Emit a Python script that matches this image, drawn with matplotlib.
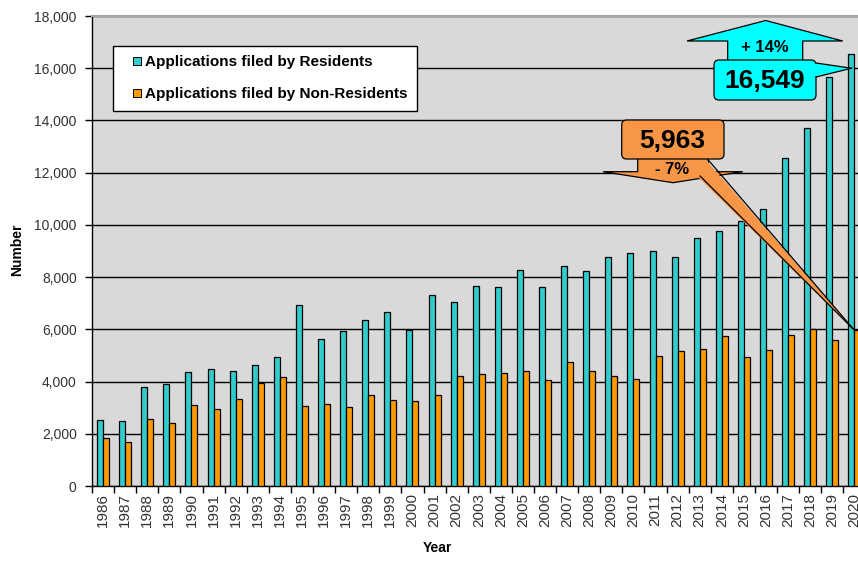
import matplotlib
matplotlib.use("Agg")
import matplotlib.pyplot as plt
import numpy as np
from matplotlib.patches import Polygon, FancyBboxPatch
from matplotlib.lines import Line2D
from matplotlib.ticker import FuncFormatter

plt.rcParams['font.family'] = ['Liberation Sans', 'DejaVu Sans']

years = list(range(1986, 2021))
residents = [2530, 2490, 3800, 3890, 4370, 4470, 4420, 4650, 4930, 6950,
             5630, 5920, 6370, 6660, 5990, 7310, 7040, 7650, 7610, 8260,
             7610, 8440, 8250, 8770, 8910, 9010, 8770, 9490, 9770, 10140,
             10610, 12570, 13710, 15660, 16549]
non_residents = [1830, 1700, 2580, 2400, 3100, 2960, 3330, 3960, 4180, 3050,
                 3140, 3010, 3470, 3290, 3240, 3470, 4230, 4280, 4320, 4420,
                 4050, 4750, 4420, 4230, 4090, 4980, 5170, 5260, 5730, 4930,
                 5220, 5780, 6000, 5590, 5963]
series_labels = ['Applications filed by Residents', 'Applications filed by Non-Residents']
res_callout = ['16,549', '+ 14%']
nonres_callout = ['5,963', '- 7%']

W, H = 858, 563
fig = plt.figure(figsize=(W / 100, H / 100), dpi=100)
ax = fig.add_axes([92 / W, 77 / H, 773.5 / W, 470 / H])

x = np.arange(len(years))
bw = 0.27
c_res = '#33CCCC'
c_non = '#FF9900'
ax.set_facecolor('#D9D9D9')
ax.bar(x - bw / 2, residents, bw, color=c_res, edgecolor='black', linewidth=0.9, zorder=3)
ax.bar(x + bw / 2, non_residents, bw, color=c_non, edgecolor='black', linewidth=0.9, zorder=3)

ax.set_xlim(-0.5, len(years) - 0.5)
ax.set_ylim(0, 18000)
ax.set_yticks(np.arange(0, 18001, 2000))
ax.yaxis.set_major_formatter(FuncFormatter(lambda v, p: f'{int(v):,}'))
ax.yaxis.grid(True, color='black', linewidth=1.0, zorder=1)
ax.set_axisbelow(True)

ax.set_xticks(np.arange(-0.5, len(years), 1.0))
ax.set_xticklabels([])
ax.set_xticks(x, minor=True)
ax.set_xticklabels([str(y) for y in years], minor=True, rotation=90, fontsize=11, color='#333333')
ax.tick_params(axis='x', which='minor', length=0, pad=5)
ax.tick_params(axis='x', which='major', length=5, width=1, color='black', direction='out')
ax.tick_params(axis='y', length=5, width=1, labelsize=10, labelcolor='#333333', pad=6)

ax.spines['top'].set_color('#A6A6A6')
ax.spines['top'].set_linewidth(1.5)
ax.spines['right'].set_visible(False)
ax.spines['left'].set_linewidth(1.0)
ax.spines['bottom'].set_linewidth(1.0)

fig.text(437 / W, 1 - 548 / H, 'Year', ha='center', va='center', fontsize=10, fontweight='bold')
fig.text(17 / W, 1 - 250 / H, 'Number', ha='center', va='center', rotation=90, fontsize=10, fontweight='bold')

handles = [Line2D([], [], marker='s', linestyle='none', markersize=6, markerfacecolor=c_res, markeredgecolor='black', markeredgewidth=0.7),
           Line2D([], [], marker='s', linestyle='none', markersize=6, markerfacecolor=c_non, markeredgecolor='black', markeredgewidth=0.7)]
leg = ax.legend(handles, series_labels, loc='upper left', bbox_to_anchor=(113 / W, 1 - 46 / H),
                bbox_transform=fig.transFigure, frameon=True, fancybox=False, framealpha=1,
                edgecolor='black', facecolor='white', prop={'weight': 'bold', 'size': 11},
                handlelength=2.0, handletextpad=-0.5, labelspacing=1.2, borderpad=0.6,
                borderaxespad=0)
leg.get_frame().set_linewidth(1.0)
leg.set_zorder(10)

# overlay in pixel coordinates for callouts
ov = fig.add_axes([0, 0, 1, 1], zorder=6)
ov.set_xlim(0, W)
ov.set_ylim(H, 0)
ov.axis('off')

def to_px(xd, yd):
    px, py = ax.transData.transform((xd, yd))
    return px, H - py

# cyan callout
cy = '#00FFFF'
ov.add_patch(Polygon([(727.7, 64), (727.7, 41), (687, 41), (765.7, 20.5), (842.7, 41),
                      (802.7, 41), (802.7, 64)], closed=True, facecolor=cy, edgecolor='black', linewidth=0.9))
ov.add_patch(FancyBboxPatch((714, 60), 102, 40, boxstyle='round,pad=0,rounding_size=5',
                            facecolor=cy, edgecolor='black', linewidth=0.9))
tip_c = to_px(len(years) - 1 - bw / 2, 16000)
ov.add_patch(Polygon([(812, 63), tip_c, (812, 77)], closed=True, facecolor=cy, edgecolor='none'))
ov.plot([816, tip_c[0]], [63, tip_c[1]], color='black', lw=0.9)
ov.plot([816, tip_c[0]], [77, tip_c[1]], color='black', lw=0.9)
ov.text(765, 81, res_callout[0], ha='center', va='center', fontsize=19, fontweight='bold')
ov.text(765, 47, res_callout[1], ha='center', va='center', fontsize=12, fontweight='bold')

# orange callout
oc = '#F79646'
ov.add_patch(Polygon([(637.7, 156), (637.7, 171.7), (603, 171.7), (673, 182.7), (742.7, 171.7),
                      (708.3, 171.7), (708.3, 156)], closed=True, facecolor=oc, edgecolor='black', linewidth=0.9))
tip_o = to_px(len(years) - 1, non_residents[-1])
ov.add_patch(Polygon([(706, 160), tip_o, (698, 177)], closed=True, facecolor=oc, edgecolor='none', zorder=3))
ov.plot([708.3, tip_o[0]], [160, tip_o[1]], color='black', lw=0.9, zorder=3)
ov.plot([700, tip_o[0]], [176, tip_o[1]], color='black', lw=0.9, zorder=3)
ov.add_patch(FancyBboxPatch((621.7, 120), 102.3, 39, boxstyle='round,pad=0,rounding_size=5',
                            facecolor=oc, edgecolor='black', linewidth=0.9, zorder=4))
ov.text(672, 141, nonres_callout[0], ha='center', va='center', fontsize=19, fontweight='bold', zorder=5)
ov.text(672, 169, nonres_callout[1], ha='center', va='center', fontsize=12, fontweight='bold', zorder=5)

fig.savefig('out.png', dpi=100)
